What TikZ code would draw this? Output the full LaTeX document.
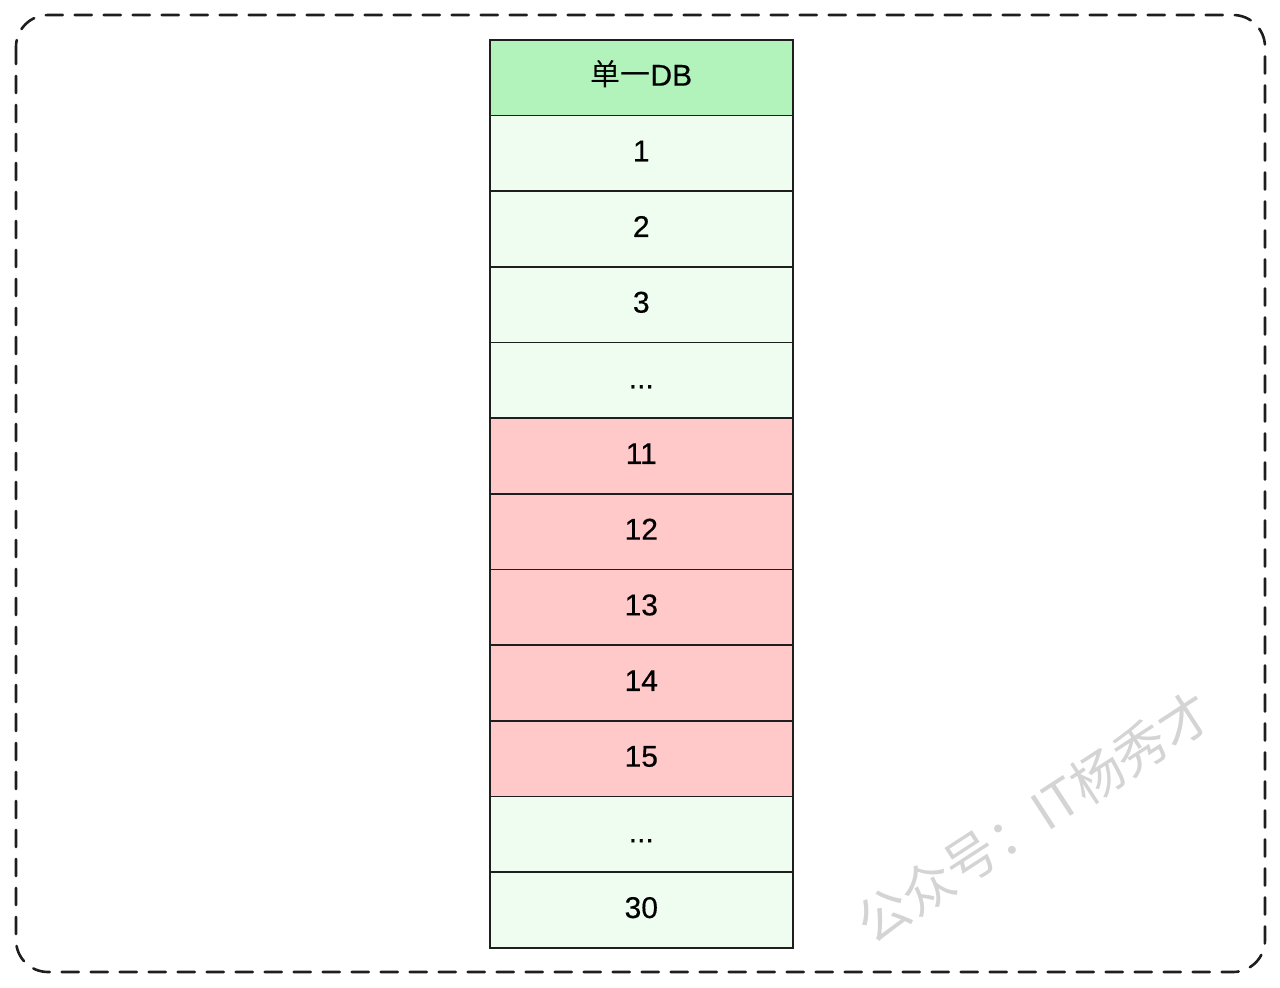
\documentclass[tikz,border=0pt]{standalone}
\usepackage{fontspec}
\setmainfont{Liberation Sans}[FakeBold=0.4]
\newfontfamily\cjk{Noto Sans CJK SC}
\definecolor{hdr}{HTML}{B2F2BB}
\definecolor{lite}{HTML}{EFFDF0}
\definecolor{hot}{HTML}{FFC9C9}
\definecolor{wm}{HTML}{D4D4D4}
\definecolor{ink}{HTML}{1E1E1E}
\begin{document}
\begin{tikzpicture}[x=1pt,y=-1pt,
  cell/.style={draw=ink,line width=1.6pt,minimum width=303pt,minimum height=75.67pt,inner sep=0pt,anchor=north west,text height=21pt,text depth=5pt,font=\fontsize{30}{34}\selectfont},
  hdrcell/.style={cell,fill=hdr},
  litecell/.style={cell,fill=lite},
  hotcell/.style={cell,fill=hot}]
\useasboundingbox (0,0) rectangle (1280,988);
\draw[ink,line width=2.6pt,dash pattern=on 17pt off 12pt,line cap=round,rounded corners=32pt] (16,15) rectangle (1265,972);
\node[hdrcell] (h) at (489,39) {{\cjk 单一}DB};
\node[litecell] (r1) at (489,114.67) {1};
\node[litecell] (r2) at (489,190.33) {2};
\node[litecell] (r3) at (489,266) {3};
\node[litecell] (r4) at (489,341.67) {...};
\node[hotcell] (r5) at (489,417.33) {11};
\node[hotcell] (r6) at (489,493) {12};
\node[hotcell] (r7) at (489,568.67) {13};
\node[hotcell] (r8) at (489,644.33) {14};
\node[hotcell] (r9) at (489,720) {15};
\node[litecell] (r10) at (489,795.67) {...};
\node[litecell] (r11) at (489,871.33) {30};
\node[text=wm,rotate=33,font=\cjk\fontsize{52}{56}\selectfont] (wmk) at (1034,817) {公众号：IT杨秀才};
\end{tikzpicture}
\end{document}
